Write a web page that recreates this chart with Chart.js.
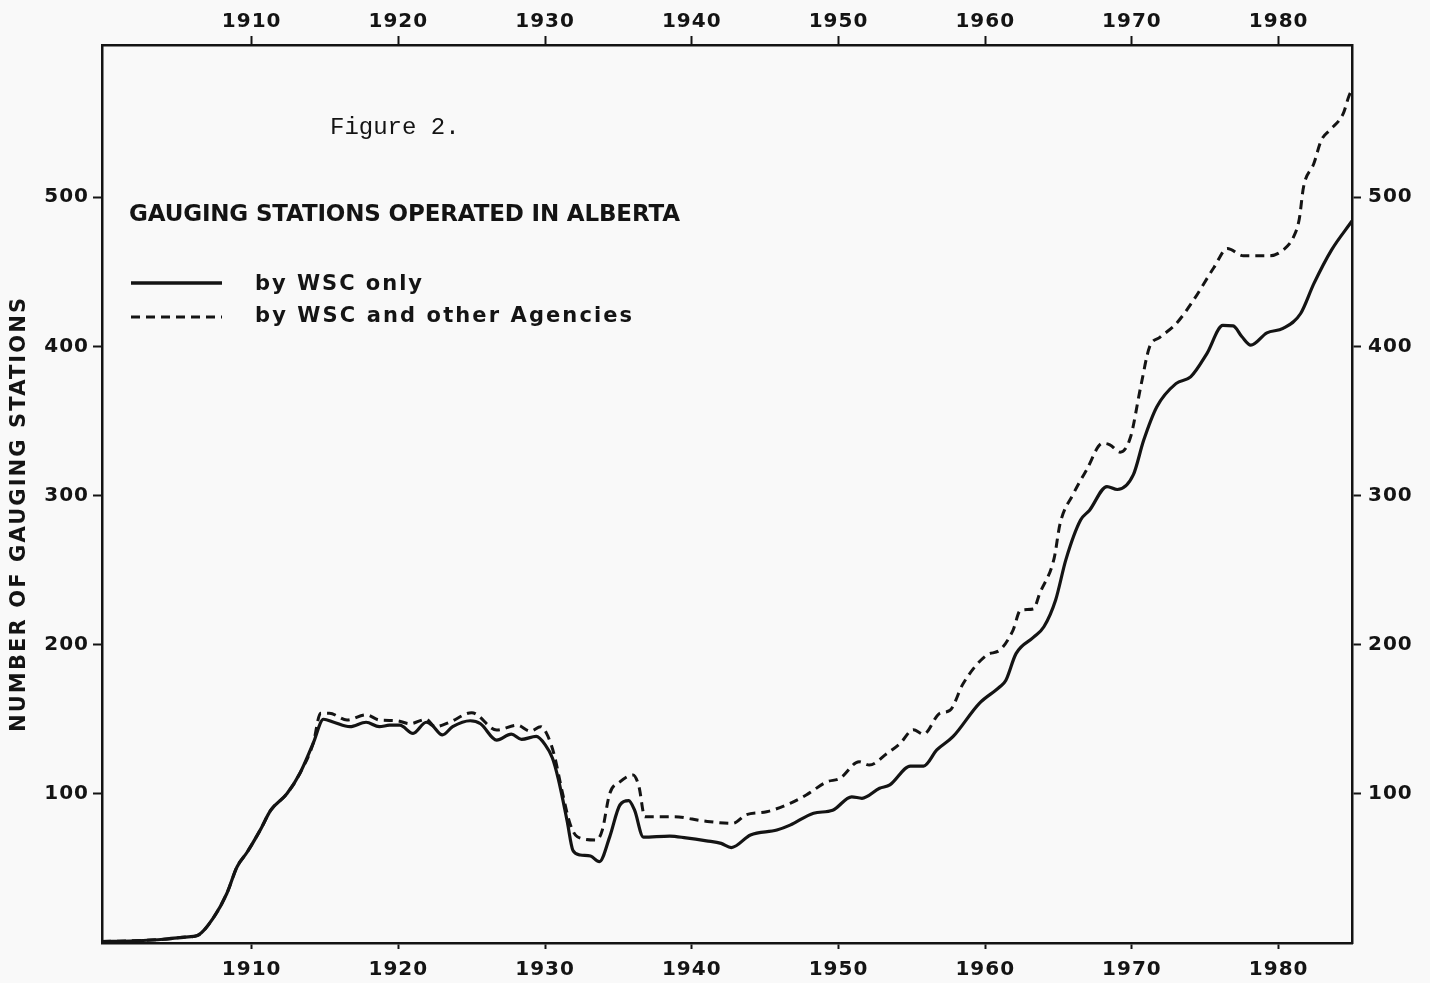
<!DOCTYPE html>
<html>
<head>
<meta charset="utf-8">
<script src="https://cdn.jsdelivr.net/npm/chart.js@4/dist/chart.umd.min.js"></script>
<style>
  html, body { margin: 0; padding: 0; background: #f9f9f9; }
  canvas { display: block; }
</style>
</head>
<body>
<canvas id="chart" width="1430" height="983"></canvas>
<script>
// Stations operated by WSC alone
const wscYears = [1899.8, 1902, 1904, 1905.5, 1906.3, 1907.4, 1908.3, 1909.0, 1909.7, 1910.6, 1911.3, 1912.4, 1913.3,
  1914.2, 1914.9, 1915.6, 1916.7, 1917.8, 1918.7, 1919.4, 1920.1, 1921.0, 1921.9, 1922.3, 1923.0, 1923.7, 1924.9,
  1925.6, 1926.7, 1927.7, 1928.4, 1929.4, 1930.0, 1930.5, 1930.9, 1931.5, 1931.9, 1932.4, 1933.1, 1933.7, 1934.4,
  1935.1, 1935.7, 1936.1, 1936.7, 1938.5, 1939.6, 1941.0, 1942.0, 1942.7, 1944.0, 1945.8, 1946.7, 1948.3, 1949.6,
  1950.9, 1951.6, 1952.8, 1953.5, 1954.9, 1955.8, 1956.7, 1957.8, 1959.6, 1961.0, 1961.4, 1962.1, 1963.3, 1964.0,
  1964.8, 1965.5, 1966.5, 1967.1, 1968.3, 1969.0, 1970.1, 1970.8, 1971.7, 1973.0, 1974.0, 1975.1, 1976.2, 1976.9,
  1977.5, 1978.1, 1979.2, 1980.3, 1981.5, 1982.4, 1983.6, 1985.0];
const wscOnly = [1, 1.5, 2.5, 4, 5, 17, 33, 51, 61, 76, 89, 100, 114,
  134, 150, 148, 145, 148, 145, 146, 146, 140.5, 148, 146, 139.5, 145, 149,
  147, 136, 140, 136.5, 138.5, 133, 124, 110, 82, 62, 59, 58.3, 54.5, 71,
  92.5, 95.4, 89, 71, 71.7, 70.5, 68.5, 66.8, 64, 72.4, 75.7, 79, 87, 89,
  98, 97, 103.7, 106, 118.6, 118.6, 129.4, 138.3, 160.7, 171.8, 176, 194, 205, 212,
  230, 257, 283.5, 290, 306, 304, 314, 337, 359.5, 375, 379.5, 395, 414, 413.7,
  406.4, 400.8, 409, 412, 422, 442, 464.5, 484];

// Stations operated by WSC and other agencies
const allYears = [1899.8, 1902, 1904, 1905.5, 1906.3, 1907.4, 1908.3, 1909.0, 1909.7, 1910.6, 1911.3, 1912.4, 1913.3,
  1914.2, 1914.7, 1915.3, 1916.5, 1917.8, 1918.7, 1919.9, 1920.8, 1921.9, 1922.5, 1923.5, 1925.0, 1926.7, 1928.1,
  1929.0, 1929.7, 1930.1, 1930.6, 1931.2, 1931.7, 1932.2, 1933.5, 1933.9, 1934.4, 1935.1, 1936.0, 1936.4, 1936.8,
  1938.8, 1940.8, 1942.8, 1943.7, 1945.1, 1946.7, 1947.8, 1949.2, 1950.1, 1951.4, 1952.1, 1953.3, 1954.2, 1955.1,
  1955.8, 1956.9, 1957.6, 1958.5, 1960.1, 1961.0, 1961.9, 1962.4, 1963.3, 1963.7, 1964.7, 1965.1, 1966.0, 1966.9,
  1968.0, 1968.5, 1969.2, 1969.9, 1970.6, 1971.2, 1971.9, 1973.0, 1974.2, 1975.6, 1976.5, 1977.6, 1979.4, 1980.3,
  1981.0, 1981.4, 1981.7, 1982.4, 1982.9, 1983.5, 1984.4, 1984.8, 1985.0];
const allAgencies = [1, 1.5, 2.5, 4, 5, 17, 33, 51, 61, 76, 89, 100, 114,
  134, 154, 154, 149.5, 153, 149.5, 149, 147, 150, 145, 148, 154.4, 142.8, 146,
  142, 145, 140.5, 127, 100, 80, 71.2, 69, 75.7, 100, 108, 112.6, 104.8, 84.6,
  84.6, 81.8, 80.2, 86, 88, 93.6, 99.2, 108, 110.4, 121.5, 119.3, 127, 133.8, 143,
  140, 154, 156, 174, 193, 196.4, 209.8, 223, 224, 234, 258, 281, 301, 317,
  335, 334, 329, 339, 373, 399.6, 406, 415, 431, 453, 465.5, 460.7, 460.7, 464.5,
  473, 485, 507, 522.5, 538, 545, 556, 568, 572];

const yearTicks = [1910, 1920, 1930, 1940, 1950, 1960, 1970, 1980];
const countTicks = [100, 200, 300, 400, 500];

const figureLabel = 'Figure 2.';
const chartTitle = 'GAUGING STATIONS OPERATED IN ALBERTA';
const seriesNames = ['by WSC only', 'by WSC and other Agencies'];
const axisTitle = 'NUMBER OF GAUGING STATIONS';

const INK = '#141414';
const PAPER = '#f9f9f9';
const tickFont = { family: 'DejaVu Sans', size: 20, weight: 'bold' };

function points(xs, ys) {
  return xs.map((x, i) => ({ x: x, y: ys[i] }));
}

function fixedTicks(values) {
  return scale => { scale.ticks = values.map(v => ({ value: v })); };
}

// Draws text stretched to a given width by spacing its letters.
function spacedText(ctx, text, x, y, width, font) {
  ctx.font = font;
  ctx.letterSpacing = '0px';
  const w = ctx.measureText(text).width;
  const gap = (width - w) / (text.length - 1);
  ctx.letterSpacing = gap.toFixed(2) + 'px';
  ctx.textAlign = 'left';
  ctx.fillText(text, x, y);
  ctx.letterSpacing = '0px';
}

const paperAndLettering = {
  id: 'paperAndLettering',
  beforeDraw(chart) {
    const ctx = chart.ctx;
    ctx.save();
    ctx.fillStyle = PAPER;
    ctx.fillRect(0, 0, chart.width, chart.height);
    ctx.restore();
    ctx.letterSpacing = '1px';
  },
  afterDraw(chart) {
    const ctx = chart.ctx;
    const a = chart.chartArea;
    ctx.save();
    ctx.fillStyle = INK;
    ctx.textBaseline = 'alphabetic';

    ctx.font = '24px "Liberation Mono"';
    ctx.letterSpacing = '0px';
    ctx.textAlign = 'left';
    ctx.fillText(figureLabel, a.left + 228, 134);

    spacedText(ctx, chartTitle, a.left + 27, 221, 551, 'bold 23px "DejaVu Sans"');

    // legend
    ctx.strokeStyle = INK;
    ctx.lineWidth = 3.5;
    ctx.beginPath();
    ctx.moveTo(a.left + 29, 283);
    ctx.lineTo(a.left + 120, 283);
    ctx.stroke();
    ctx.lineWidth = 3;
    ctx.setLineDash([9, 6]);
    ctx.beginPath();
    ctx.moveTo(a.left + 29, 317);
    ctx.lineTo(a.left + 120, 317);
    ctx.stroke();
    ctx.setLineDash([]);
    spacedText(ctx, seriesNames[0], a.left + 153, 290, 167, 'bold 21px "DejaVu Sans"');
    spacedText(ctx, seriesNames[1], a.left + 153, 322, 377, 'bold 21px "DejaVu Sans"');

    // rotated axis title
    ctx.translate(19, 515);
    ctx.rotate(-Math.PI / 2);
    ctx.textBaseline = 'middle';
    spacedText(ctx, axisTitle, -217, 1, 434, 'bold 21px "DejaVu Sans"');
    ctx.restore();
  }
};

function xAxis(position, tickLength, padding, size) {
  return {
    type: 'linear',
    position: position,
    min: 1899.8,
    max: 1985,
    afterBuildTicks: fixedTicks(yearTicks),
    afterFit: s => { s.height = size; },
    ticks: {
      autoSkip: false, maxRotation: 0, padding: padding,
      color: INK, font: tickFont, callback: v => String(v)
    },
    grid: { drawOnChartArea: false, drawTicks: true, tickLength: tickLength, tickWidth: 2, color: INK },
    border: { display: true, color: INK, width: 2.5 }
  };
}

function yAxis(position, padding, size) {
  return {
    type: 'linear',
    position: position,
    min: 0,
    max: 602,
    afterBuildTicks: fixedTicks(countTicks),
    afterFit: s => { s.width = size; },
    ticks: {
      autoSkip: false, padding: padding,
      color: INK, font: tickFont, callback: v => String(v)
    },
    grid: { drawOnChartArea: false, drawTicks: true, tickLength: 9, tickWidth: 2, color: INK },
    border: { display: true, color: INK, width: 2.5 }
  };
}

new Chart(document.getElementById('chart'), {
  type: 'line',
  data: {
    datasets: [
      {
        label: seriesNames[0],
        data: points(wscYears, wscOnly),
        xAxisID: 'x', yAxisID: 'y',
        borderColor: INK, borderWidth: 3.2,
        pointRadius: 0, fill: false,
        cubicInterpolationMode: 'monotone'
      },
      {
        label: seriesNames[1],
        data: points(allYears, allAgencies),
        xAxisID: 'x', yAxisID: 'y',
        borderColor: INK, borderWidth: 3,
        borderDash: [9, 6],
        pointRadius: 0, fill: false,
        cubicInterpolationMode: 'monotone'
      }
    ]
  },
  options: {
    responsive: false,
    animation: false,
    devicePixelRatio: 1,
    layout: { padding: 0 },
    plugins: { legend: { display: false }, tooltip: { enabled: false } },
    scales: {
      x: xAxis('bottom', 6, 9, 40),
      xTop: xAxis('top', 9, 2, 45),
      y: yAxis('left', 4, 102),
      yRight: yAxis('right', 7, 78)
    }
  },
  plugins: [paperAndLettering]
});
</script>
</body>
</html>
